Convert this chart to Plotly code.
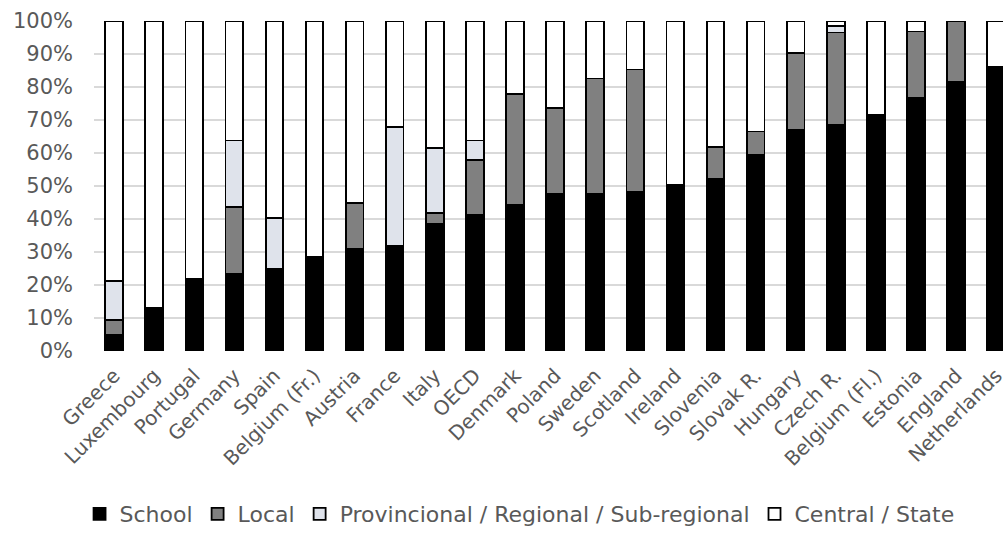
import plotly.graph_objects as go

categories = ["Greece", "Luxembourg", "Portugal", "Germany", "Spain", "Belgium (Fr.)",
              "Austria", "France", "Italy", "OECD", "Denmark", "Poland", "Sweden",
              "Scotland", "Ireland", "Slovenia", "Slovak R.", "Hungary", "Czech R.",
              "Belgium (Fl.)", "Estonia", "England", "Netherlands"]

school =     [5.0, 13.0, 22.0, 23.3, 24.8, 28.4, 31.0, 31.8, 38.5, 41.2, 44.3, 47.5, 47.5,
              48.1, 50.2, 52.1, 59.5, 66.9, 68.5, 71.4, 76.6, 81.4, 86.0]
local =      [4.3, 0.0, 0.0, 20.4, 0.0, 0.0, 13.8, 0.0, 3.2, 16.8, 33.6, 26.1, 35.1,
              37.2, 0.0, 9.8, 7.0, 23.3, 28.0, 0.0, 20.2, 18.6, 0.0]
provincial = [11.9, 0.0, 0.0, 20.1, 15.5, 0.0, 0.0, 36.0, 19.8, 5.8, 0.0, 0.0, 0.0,
              0.0, 0.0, 0.0, 0.0, 0.0, 2.0, 0.0, 0.0, 0.0, 0.0]
central =    [78.8, 87.0, 78.0, 36.2, 59.7, 71.6, 55.2, 32.2, 38.5, 36.2, 22.1, 26.4, 17.4,
              14.7, 49.8, 38.1, 33.5, 9.8, 1.5, 28.6, 3.2, 0.0, 14.0]

series_names = ["School", "Local", "Provincional / Regional / Sub-regional", "Central / State"]
series_values = [school, local, provincial, central]
series_colors = ["#000000", "#808080", "#dfe3eb", "#ffffff"]

FONT = "DejaVu Sans, Verdana, sans-serif"
TXT = "#595959"

fig = go.Figure()
for name, vals, col in zip(series_names, series_values, series_colors):
    fig.add_trace(go.Bar(
        x=list(range(len(categories))), y=vals, name=name,
        marker=dict(color=col, line=dict(color="#000000", width=1.8)),
    ))

fig.update_layout(
    barmode="stack",
    bargap=0.56,
    width=1003, height=535,
    margin=dict(l=94, r=0, t=21, b=184, autoexpand=False),
    plot_bgcolor="white", paper_bgcolor="white",
    font=dict(family=FONT, size=20, color=TXT),
    showlegend=True,
    legend=dict(
        orientation="h", xref="container", yref="container",
        x=0.518, xanchor="center", y=0.0, yanchor="bottom",
        font=dict(family=FONT, size=22, color=TXT),
        traceorder="normal", itemwidth=30,
    ),
    xaxis=dict(
        tickmode="array", tickvals=list(range(len(categories))), ticktext=categories,
        range=[-0.5, 22.17], tickangle=-45, showgrid=False, zeroline=False,
        showline=False, ticks="", ticklabelstandoff=8, automargin=False,
        ticklabeloverflow="allow",
        tickfont=dict(family=FONT, size=20, color=TXT),
    ),
    yaxis=dict(
        range=[0, 100], tickmode="linear", tick0=0, dtick=10, ticksuffix="%",
        showgrid=True, gridcolor="#d9d9d9", gridwidth=1.5, zeroline=False,
        showline=False, ticks="", ticklabelstandoff=20, automargin=False,
        tickfont=dict(family=FONT, size=21, color=TXT),
    ),
)

fig.write_html(
    "out.html",
    config={"displayModeBar": False},
    post_script="document.body.style.margin='0';document.body.style.overflow='hidden';",
)
